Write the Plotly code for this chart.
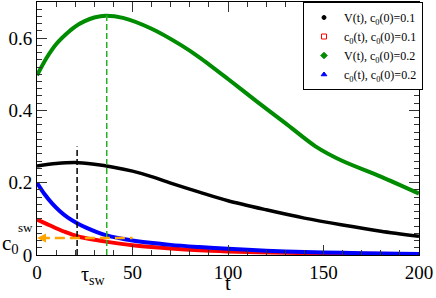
import plotly.graph_objects as go

# ---- data ----
t_V1 = [0, 10, 20, 30, 40, 50, 60, 70, 85, 100, 120, 140, 160, 180, 200]
V1 = [0.246, 0.253, 0.256, 0.251, 0.243, 0.232, 0.217, 0.199, 0.174, 0.150, 0.125, 0.102, 0.083, 0.066, 0.052]

t_V2 = [0, 5, 10, 15, 20, 25, 30, 36, 45, 60, 75, 85, 100, 115, 130, 146, 160, 180, 200]
V2 = [0.497, 0.545, 0.583, 0.610, 0.632, 0.647, 0.657, 0.662, 0.656, 0.626, 0.582, 0.547, 0.487, 0.425, 0.365, 0.300, 0.260, 0.217, 0.170]

t_c1 = [0, 5, 10, 15, 21, 30, 36, 50, 70, 85, 100, 130, 160, 200]
c1 = [0.098, 0.086, 0.074, 0.063, 0.052, 0.042, 0.037, 0.027, 0.018, 0.013, 0.010, 0.006, 0.004, 0.002]

t_c2 = [0, 4, 8, 12, 16, 21, 26, 31, 36, 50, 70, 85, 100, 120, 140, 160, 180, 200]
c2 = [0.200, 0.168, 0.142, 0.121, 0.104, 0.088, 0.075, 0.064, 0.055, 0.040, 0.028, 0.022, 0.017, 0.012, 0.008, 0.006, 0.004, 0.003]

tau_sw_1 = 21.0      # black dashed marker
tau_sw_2 = 36.5      # green dashed marker (peak of V, c0(0)=0.2)
V2_peak = 0.663
tau_line_top = 0.30
c0_sw = 0.047
c0_sw_extent = 50

legend_names = ["V(t), c<sub>0</sub>(0)=0.1", "c<sub>0</sub>(t), c<sub>0</sub>(0)=0.1",
                "V(t), c<sub>0</sub>(0)=0.2", "c<sub>0</sub>(t), c<sub>0</sub>(0)=0.2"]
x_ticks = [0, 50, 100, 150, 200]
y_ticks = [0, 0.2, 0.4, 0.6]

FONT = "Liberation Serif"
fig = go.Figure()

curves = [(t_V1, V1, "black", 3.5), (t_c1, c1, "#ff0000", 4),
          (t_V2, V2, "#008c00", 4), (t_c2, c2, "#0000ff", 4)]
for tx, ty, col, w in curves:
    fig.add_trace(go.Scatter(x=tx, y=ty, mode="lines",
                             line=dict(color=col, width=w, shape="spline", smoothing=0.8),
                             showlegend=False, hoverinfo="skip"))

# legend-only marker entries
leg_markers = [("circle", "black", 4), ("square-open", "#ff0000", 5),
               ("diamond", "#008c00", 5), ("triangle-up", "#0000ff", 5)]
for name, (sym, col, sz) in zip(legend_names, leg_markers):
    fig.add_trace(go.Scatter(x=[None], y=[None], mode="markers", name=name,
                             marker=dict(symbol=sym, color=col, size=sz, line=dict(color=col, width=1))))

# dashed reference lines
fig.add_shape(type="line", x0=tau_sw_1, x1=tau_sw_1, y0=0, y1=tau_line_top, xref="x", yref="y",
              line=dict(color="black", width=1.5, dash="6px,3px"))
fig.add_shape(type="line", x0=tau_sw_2, x1=tau_sw_2, y0=0, y1=V2_peak, xref="x", yref="y",
              line=dict(color="#22b022", width=1.5, dash="6px,3px"))
fig.add_shape(type="line", x0=1.5, x1=c0_sw_extent, y0=c0_sw, y1=c0_sw, xref="x", yref="y",
              line=dict(color="#ffa500", width=2.5, dash="10px,5px"))
fig.add_annotation(x=0, y=c0_sw, ax=4, ay=c0_sw, xref="x", yref="y", axref="x", ayref="y",
                   text="", showarrow=True, arrowhead=2, arrowsize=0.9, arrowwidth=2, arrowcolor="#ffa500")

# labels
fig.add_annotation(x=0, y=c0_sw, xref="paper", yref="y", xshift=-16, yshift=-6, text="c<sub>0</sub>",
                   showarrow=False, xanchor="right", font=dict(family=FONT, size=21, color="black"))
fig.add_annotation(x=0, y=c0_sw, xref="paper", yref="y", xshift=-12, yshift=11, text="sw",
                   showarrow=False, xanchor="center", font=dict(family=FONT, size=13, color="black"))
fig.add_annotation(x=tau_sw_1, y=0, xref="x", yref="paper", xshift=2, yshift=-6, text="τ<sub>sw</sub>",
                   showarrow=False, xanchor="left", yanchor="top", font=dict(family=FONT, size=20, color="black"))
fig.add_annotation(x=100, y=0, xref="x", yref="paper", yshift=-28, text="t",
                   showarrow=False, xanchor="center", yanchor="middle", font=dict(family=FONT, size=21, color="black"))

axis_common = dict(showline=True, linecolor="black", linewidth=1, mirror="allticks",
                   ticks="inside", ticklen=10, tickwidth=1, tickcolor="#333",
                   showgrid=False, zeroline=False, automargin=False,
                   tickfont=dict(family=FONT, size=19, color="black"))
fig.update_xaxes(range=[0, 200], tickvals=x_ticks, ticktext=[str(v) for v in x_ticks],
                 minor=dict(dtick=10, ticks="inside", ticklen=5, tickcolor="#333", showgrid=False),
                 **axis_common)
fig.update_yaxes(range=[0, 0.7], tickvals=y_ticks, ticktext=["0", "0.2", "0.4", "0.6"],
                 minor=dict(dtick=0.02, ticks="inside", ticklen=5, tickcolor="#333", showgrid=False),
                 **axis_common)

fig.update_layout(width=436, height=298, margin=dict(l=37, r=17, t=2, b=43),
                  paper_bgcolor="white", plot_bgcolor="white",
                  legend=dict(x=1.0105, y=1.0, xanchor="right", yanchor="top",
                              bgcolor="white", bordercolor="black", borderwidth=1,
                              font=dict(family=FONT, size=12, color="black"),
                              itemwidth=30, tracegroupgap=0))
fig.write_html("out.html", config={"displayModeBar": False},
               post_script="document.body.style.margin='0';")
